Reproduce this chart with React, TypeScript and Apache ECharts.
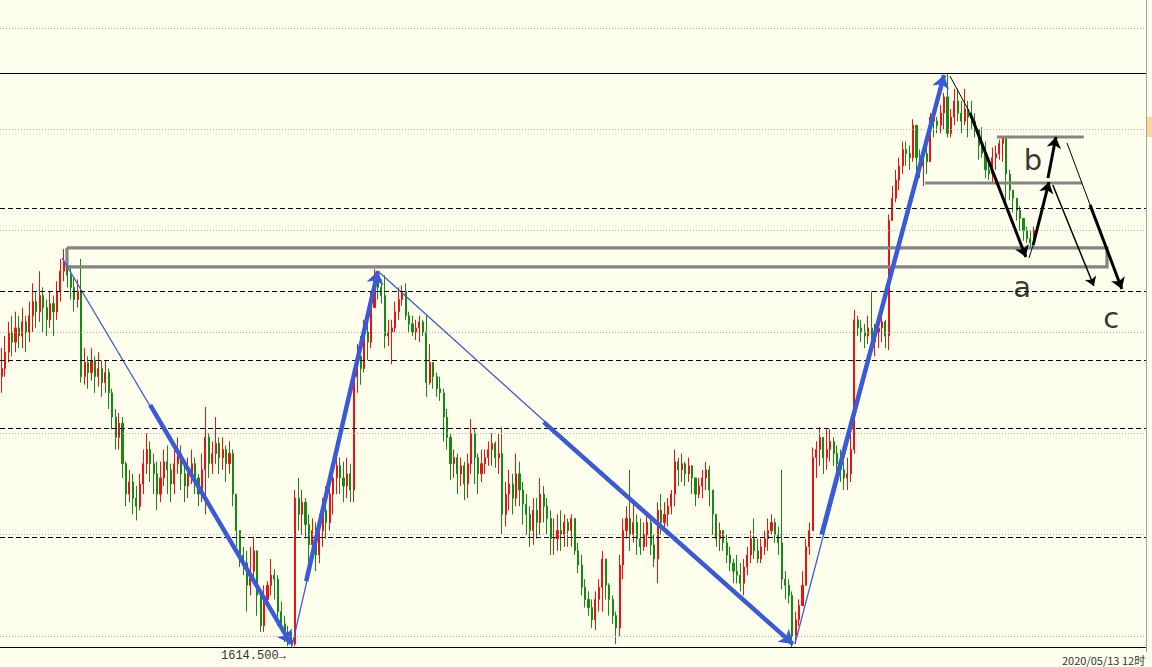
import React, { useEffect, useRef } from "react";
import * as echarts from "echarts";

// ---- price bars: [close, low, high]; open = previous close ----
const firstOpen = 1748;
const barsA = [
  [1752, 1740, 1762], [1760, 1748, 1768], [1770, 1755, 1775], [1765, 1758, 1778], [1772, 1760, 1780],
  [1768, 1762, 1778], [1775, 1762, 1782], [1770, 1760, 1778], [1778, 1765, 1785], [1785, 1770, 1794],
  [1780, 1772, 1790], [1788, 1775, 1800], [1782, 1770, 1792], [1776, 1768, 1786], [1784, 1772, 1790],
  [1780, 1768, 1788], [1790, 1776, 1795], [1800, 1785, 1806], [1805, 1795, 1811], [1798, 1792, 1808],
  [1792, 1786, 1803], [1786, 1780, 1797], [1790, 1782, 1796], [1748, 1745, 1806], [1755, 1744, 1762],
  [1750, 1742, 1758], [1756, 1746, 1762], [1748, 1740, 1758], [1752, 1743, 1760], [1745, 1738, 1756],
  [1750, 1740, 1756], [1740, 1732, 1752], [1728, 1722, 1742], [1718, 1712, 1732], [1725, 1712, 1730],
  [1705, 1698, 1728], [1690, 1684, 1706], [1696, 1686, 1702], [1688, 1680, 1700], [1684, 1677, 1694],
  [1695, 1682, 1700], [1705, 1690, 1712], [1712, 1700, 1720], [1705, 1696, 1716], [1700, 1690, 1710],
  [1690, 1682, 1706], [1698, 1686, 1706], [1706, 1694, 1712], [1702, 1690, 1714], [1695, 1686, 1705],
  [1705, 1690, 1714], [1710, 1700, 1718], [1700, 1692, 1714], [1694, 1686, 1704], [1700, 1688, 1708],
  [1705, 1695, 1712], [1698, 1690, 1708], [1690, 1684, 1700], [1702, 1686, 1710], [1718, 1680, 1733],
];
const barsB = [
  [1705, 1698, 1720], [1710, 1700, 1716], [1715, 1705, 1728], [1708, 1700, 1718], [1712, 1702, 1718],
  [1705, 1696, 1714], [1710, 1700, 1716], [1690, 1684, 1712], [1672, 1664, 1686], [1660, 1654, 1670],
  [1656, 1650, 1664], [1645, 1632, 1662], [1652, 1640, 1664], [1662, 1648, 1669], [1640, 1630, 1660],
  [1625, 1622, 1637], [1638, 1622, 1645], [1645, 1635, 1647], [1650, 1640, 1658], [1648, 1638, 1653],
  [1632, 1625, 1650], [1626, 1622, 1637], [1622, 1617, 1630], [1618, 1615, 1625], [1616, 1614.5, 1622],
  [1688, 1615, 1692], [1680, 1672, 1698], [1686, 1670, 1692], [1675, 1668, 1688], [1665, 1655, 1680],
  [1672, 1658, 1678], [1660, 1652, 1676], [1672, 1656, 1680], [1682, 1664, 1688], [1676, 1668, 1694],
  [1690, 1672, 1696], [1698, 1680, 1702], [1704, 1690, 1712], [1698, 1690, 1708], [1694, 1686, 1706],
  [1700, 1688, 1708], [1692, 1686, 1705], [1748, 1686, 1752], [1758, 1740, 1764], [1752, 1744, 1768],
  [1770, 1750, 1776], [1765, 1756, 1782], [1782, 1762, 1790], [1795, 1782, 1801], [1792, 1786, 1800],
  [1788, 1784, 1796], [1768, 1762, 1798], [1770, 1763, 1776], [1772, 1754, 1776], [1780, 1770, 1785],
  [1786, 1776, 1792], [1790, 1783, 1793], [1778, 1776, 1794], [1774, 1770, 1780], [1770, 1768, 1778],
];
const barsC = [
  [1772, 1766, 1776], [1775, 1765, 1778], [1770, 1768, 1776], [1745, 1738, 1778], [1755, 1744, 1764],
  [1748, 1742, 1755], [1742, 1738, 1750], [1740, 1736, 1748], [1728, 1716, 1742], [1718, 1712, 1732],
  [1705, 1697, 1720], [1708, 1698, 1712], [1700, 1690, 1710], [1704, 1694, 1708], [1695, 1687, 1706],
  [1705, 1688, 1710], [1720, 1700, 1727], [1708, 1695, 1722], [1700, 1690, 1710], [1705, 1696, 1712],
  [1708, 1700, 1712], [1712, 1704, 1716], [1715, 1704, 1720], [1708, 1703, 1716], [1710, 1700, 1720],
  [1680, 1670, 1723], [1690, 1674, 1696], [1695, 1682, 1702], [1688, 1680, 1700], [1700, 1684, 1710],
  [1692, 1684, 1706], [1685, 1675, 1696], [1680, 1670, 1690], [1672, 1664, 1684], [1682, 1665, 1688],
  [1676, 1668, 1688], [1690, 1670, 1698], [1684, 1676, 1694], [1678, 1670, 1688], [1668, 1660, 1682],
  [1668, 1660, 1678], [1672, 1662, 1680], [1670, 1662, 1682], [1676, 1664, 1680], [1672, 1664, 1678],
  [1678, 1664, 1680], [1662, 1660, 1676], [1655, 1651, 1666], [1644, 1640, 1660], [1638, 1634, 1648],
  [1634, 1630, 1642], [1628, 1624, 1638], [1638, 1623, 1642], [1644, 1632, 1648], [1658, 1632, 1662],
  [1645, 1638, 1656], [1638, 1630, 1646], [1630, 1626, 1640], [1624, 1616, 1632], [1655, 1620, 1660],
];
const barsD = [
  [1672, 1648, 1678], [1678, 1668, 1684], [1670, 1662, 1702], [1676, 1666, 1686], [1668, 1660, 1680],
  [1664, 1660, 1678], [1670, 1662, 1676], [1676, 1664, 1680], [1665, 1660, 1678], [1658, 1654, 1670],
  [1682, 1646, 1686], [1676, 1670, 1690], [1680, 1672, 1686], [1684, 1674, 1688], [1690, 1680, 1692],
  [1706, 1684, 1712], [1702, 1694, 1708], [1705, 1696, 1710], [1700, 1694, 1706], [1704, 1696, 1708],
  [1698, 1690, 1704], [1690, 1684, 1698], [1694, 1688, 1698], [1698, 1688, 1702], [1702, 1692, 1706],
  [1692, 1684, 1704], [1680, 1670, 1692], [1668, 1664, 1676], [1672, 1662, 1676], [1666, 1662, 1672],
  [1660, 1656, 1670], [1656, 1652, 1664], [1652, 1646, 1658], [1650, 1646, 1660], [1646, 1642, 1656],
  [1654, 1640, 1658], [1660, 1650, 1664], [1668, 1656, 1672], [1662, 1658, 1678], [1658, 1656, 1668],
  [1664, 1656, 1668], [1668, 1660, 1672], [1672, 1662, 1678], [1676, 1670, 1680], [1670, 1666, 1678],
  [1666, 1660, 1674], [1648, 1643, 1702], [1645, 1638, 1652], [1640, 1636, 1648], [1620, 1614.5, 1642],
  [1628, 1616, 1632], [1635, 1625, 1638], [1645, 1636, 1652], [1664, 1648, 1668], [1672, 1660, 1676],
  [1708, 1676, 1713], [1712, 1698, 1716], [1718, 1704, 1723], [1708, 1700, 1718], [1712, 1702, 1722],
];
const barsE = [
  [1716, 1706, 1722], [1710, 1704, 1718], [1705, 1700, 1714], [1702, 1696, 1712], [1698, 1692, 1706],
  [1700, 1692, 1708], [1712, 1696, 1722], [1776, 1710, 1781], [1772, 1768, 1778], [1770, 1765, 1776],
  [1768, 1762, 1774], [1772, 1764, 1778], [1765, 1760, 1790], [1770, 1758, 1774], [1772, 1762, 1776],
  [1775, 1765, 1778], [1768, 1762, 1776], [1825, 1761, 1828], [1836, 1826, 1842], [1845, 1834, 1850],
  [1852, 1840, 1856], [1860, 1848, 1864], [1858, 1852, 1864], [1856, 1850, 1862], [1872, 1854, 1875],
  [1856, 1848, 1866], [1852, 1846, 1860], [1858, 1842, 1861], [1854, 1848, 1862], [1876, 1856, 1878],
  [1874, 1866, 1880], [1872, 1868, 1876], [1878, 1868, 1882], [1886, 1870, 1888], [1868, 1866, 1897.8],
  [1876, 1866, 1880], [1884, 1872, 1890], [1878, 1874, 1890], [1874, 1868, 1884], [1880, 1872, 1890],
  [1876, 1866, 1884], [1874, 1870, 1884], [1870, 1866, 1878], [1862, 1855, 1868], [1858, 1856, 1871],
  [1850, 1846, 1864], [1848, 1845, 1855], [1856, 1844, 1861], [1858, 1850, 1862], [1863, 1855, 1865],
  [1866, 1854, 1866], [1848, 1832, 1865], [1840, 1835, 1850], [1836, 1829, 1838], [1830, 1825, 1832],
  [1826, 1820, 1832], [1820, 1815, 1824], [1816, 1814, 1822], [1814, 1811, 1820], [1820, 1815, 1822],
];

const SLOT_COUNT = 332;
const priceMin = 1612.1;
const priceMax = 1933.8;

// horizontal levels
const dottedLevels = [1620, 1670, 1720, 1770, 1820, 1870, 1920];
const dashedLevels = [1831, 1790, 1756, 1722.5, 1668.5];
const extremeLevels = [1897.8, 1614.5];
const lowLabel = "1614.500→";
const dateLabel = "2020/05/13 12时";

// wave annotations in [bar index, price]
const waveThin = [
  [[17.5, 1806.5], [84.1, 1615.6]],
  [[84.1, 1615.1], [109.0, 1800.1]],
  [[109.6, 1799.1], [229.2, 1615.6]],
  [[229.8, 1616.1], [273.0, 1896.8]],
];
const waveThick = [
  [[43.0, 1734.0], [83.8, 1616.1]],
  [[88.2, 1647.0], [109.0, 1800.1]],
  [[157.0, 1725.5], [229.2, 1616.1]],
  [[237.5, 1670.0], [273.0, 1896.8]],
];
const abcThin = [
  [[274.7, 1896.3], [280.5, 1878.1]],
  [[297.6, 1806.5], [298.8, 1812.9]],
  [[308.6, 1863.3], [315.3, 1832.7]],
];
const abcThick = [
  [[280.5, 1878.1], [296.7, 1807.0]],
  [[298.8, 1812.9], [303.4, 1844.0]],
  [[303.1, 1846.0], [305.4, 1866.2]],
  [[315.3, 1832.7], [324.5, 1791.2]],
];
const abcMedium = [[[304.5, 1842.5], [316.4, 1792.7]]];
const grayLevels = [
  [[18.9, 1811.5], [320.2, 1811.5], [320.2, 1802.1], [18.9, 1802.1], [18.9, 1811.5]],
  [[288.3, 1866.2], [313.5, 1866.2]],
  [[267.5, 1843.5], [313.0, 1843.5]],
];
const waveLabelText = ["a", "b", "c"];
const waveLabelX = [295.6, 298.75, 321.4];
const waveLabelY = [1792.2, 1854.9, 1776.9];

export default function App() {
  const ref = useRef<HTMLDivElement>(null);
  useEffect(() => {
    if (!ref.current) return;
    const chart = echarts.init(ref.current, undefined, { renderer: "svg" });
    const rows = [...barsA, ...barsB, ...barsC, ...barsD, ...barsE];
    let prev = firstOpen;
    const candles = rows.map(([c, l, h]) => {
      const o = prev;
      prev = c;
      return [o, c, Math.min(l, o, c), Math.max(h, o, c)];
    });
    const categories = Array.from({ length: SLOT_COUNT }, (_, i) => String(i + 1));
    const red = "#ee1111";
    const green = "#148a14";
    const blue = "#3a5ad8";
    const markData: any[] = [
      ...dottedLevels.map((v) => ({ yAxis: v, lineStyle: { color: "#b4b4a8", type: [1, 2], width: 1 } })),
      ...dashedLevels.map((v) => ({ yAxis: v, lineStyle: { color: "#000", type: [5, 3], width: 1 } })),
      ...extremeLevels.map((v) => ({ yAxis: v, lineStyle: { color: "#000", type: "solid", width: 1.2 } })),
    ];
    const linesBase = {
      type: "lines",
      coordinateSystem: "cartesian2d",
      xAxisIndex: 1,
      yAxisIndex: 0,
      silent: true,
    };
    chart.setOption({
      animation: false,
      backgroundColor: "#fefeec",
      grid: { left: 0, right: 6, top: 0, bottom: 15 },
      xAxis: [
        { type: "category", data: categories, boundaryGap: true, show: false },
        { type: "value", min: -0.5, max: SLOT_COUNT - 0.5, show: false },
      ],
      yAxis: {
        type: "value",
        min: priceMin,
        max: priceMax,
        position: "right",
        axisLine: { show: true, onZero: false, lineStyle: { color: "#a4a49c", width: 1 } },
        axisTick: { show: false },
        axisLabel: { show: false },
        splitLine: { show: false },
      },
      series: [
        {
          type: "candlestick",
          xAxisIndex: 0,
          yAxisIndex: 0,
          data: candles,
          barWidth: 1.6,
          silent: true,
          itemStyle: {
            color: red,
            color0: green,
            borderColor: red,
            borderColor0: green,
            borderWidth: 1,
          },
          markLine: {
            silent: true,
            symbol: "none",
            label: { show: false },
            data: markData,
          },
        },
        {
          ...linesBase,
          polyline: true,
          lineStyle: { color: "#848484", width: 3.2, opacity: 1 },
          data: grayLevels.map((c) => ({ coords: c })),
          z: 3,
        },
        {
          ...linesBase,
          lineStyle: { color: blue, width: 1.3, opacity: 1 },
          data: waveThin.map((c) => ({ coords: c })),
          z: 4,
        },
        {
          ...linesBase,
          symbol: ["none", "arrow"],
          symbolSize: 13,
          lineStyle: { color: blue, width: 4.5, opacity: 1 },
          data: waveThick.map((c) => ({ coords: c })),
          z: 5,
        },
        {
          ...linesBase,
          lineStyle: { color: "#000", width: 1, opacity: 1 },
          data: abcThin.map((c) => ({ coords: c })),
          z: 6,
        },
        {
          ...linesBase,
          symbol: ["none", "arrow"],
          symbolSize: 9,
          lineStyle: { color: "#000", width: 1.5, opacity: 1 },
          data: abcMedium.map((c) => ({ coords: c })),
          z: 6,
        },
        {
          ...linesBase,
          symbol: ["none", "arrow"],
          symbolSize: 11,
          lineStyle: { color: "#000", width: 3, opacity: 1 },
          data: abcThick.map((c) => ({ coords: c })),
          z: 7,
        },
        {
          type: "scatter",
          xAxisIndex: 1,
          yAxisIndex: 0,
          silent: true,
          symbol: "circle",
          symbolSize: 1,
          itemStyle: { color: "rgba(0,0,0,0)" },
          data: waveLabelText.map((t, i) => [waveLabelX[i], waveLabelY[i], t]),
          label: {
            show: true,
            position: "inside",
            formatter: (p: any) => p.data[2],
            fontSize: 29,
            fontFamily: "DejaVu Sans",
            color: "#000",
          },
          z: 8,
        },
      ],
      graphic: [
        {
          type: "rect",
          left: 1147,
          top: 117,
          shape: { width: 5, height: 20 },
          style: { fill: "#f8dc96" },
          silent: true,
        },
        {
          type: "text",
          left: 221,
          top: 650,
          style: { text: lowLabel, font: '12px "Liberation Mono"', fill: "#333" },
          silent: true,
        },
        {
          type: "text",
          left: 1062,
          top: 654,
          style: { text: dateLabel, font: '11px "Noto Sans CJK SC"', fill: "#333" },
          silent: true,
        },
      ],
    });
    return () => chart.dispose();
  }, []);
  return (
    <div
      ref={ref}
      style={{ position: "absolute", left: 0, top: 0, width: 1152, height: 667 }}
    />
  );
}
